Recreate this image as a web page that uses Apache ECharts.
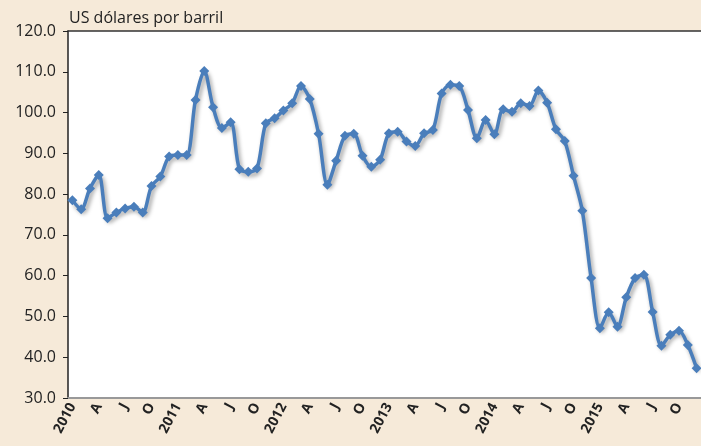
<!DOCTYPE html>
<html>
<head>
<meta charset="utf-8">
<script src="https://cdn.jsdelivr.net/npm/echarts@6/dist/echarts.min.js"></script>
<style>
  html, body { margin: 0; padding: 0; background: #f6ead9; }
  #chart { width: 701px; height: 446px; }
</style>
</head>
<body>
<div id="chart"></div>
<script>
var years = ['2010', '2011', '2012', '2013', '2014', '2015'];
var monthLetters = ['', 'F', 'M', 'A', 'M', 'J', 'J', 'A', 'S', 'O', 'N', 'D'];

var price2010 = [78.5, 76.3, 81.4, 84.7, 74.1, 75.5, 76.5, 76.9, 75.5, 82.0, 84.3, 89.2];
var price2011 = [89.6, 89.6, 103.1, 110.2, 101.3, 96.2, 97.6, 86.1, 85.5, 86.3, 97.4, 98.6];
var price2012 = [100.5, 102.3, 106.5, 103.3, 94.8, 82.3, 88.2, 94.3, 94.8, 89.4, 86.7, 88.4];
var price2013 = [94.9, 95.3, 92.9, 91.8, 94.9, 95.7, 104.7, 106.8, 106.5, 100.6, 93.7, 98.2];
var price2014 = [94.7, 100.8, 100.2, 102.3, 101.6, 105.4, 102.4, 95.9, 93.0, 84.5, 75.9, 59.4];
var price2015 = [47.1, 51.0, 47.5, 54.7, 59.4, 60.2, 51.1, 42.8, 45.5, 46.5, 43.0, 37.3];

var categories = [];
years.forEach(function (y) {
    monthLetters.forEach(function (m, i) {
        categories.push(i === 0 ? y : m);
    });
});
var prices = [].concat(price2010, price2011, price2012, price2013, price2014, price2015);

var myChart = echarts.init(document.getElementById('chart'));
var option = {
    backgroundColor: '#f6ead9',
    animation: false,
    title: {
        text: 'US dólares por barril',
        left: 64,
        top: 5,
        textStyle: { fontFamily: 'Open Sans', fontSize: 16, fontWeight: 'normal', color: '#222' }
    },
    grid: {
        left: 68, top: 31, right: 0, bottom: 48,
        show: true, backgroundColor: '#fff', borderWidth: 0
    },
    xAxis: [
        {
            type: 'category',
            data: categories,
            boundaryGap: true,
            axisLine: { lineStyle: { color: '#999', width: 2 } },
            axisTick: { interval: 0, length: 4, lineStyle: { color: '#999' } },
            axisLabel: {
                interval: 2,
                rotate: 62,
                margin: 6,
                fontFamily: 'Open Sans',
                fontSize: 14,
                fontWeight: 'bold',
                color: '#222'
            }
        },
        {
            type: 'category',
            data: categories,
            position: 'top',
            axisLine: { lineStyle: { color: '#333', width: 1.5 } },
            axisTick: { show: false },
            axisLabel: { show: false }
        }
    ],
    yAxis: {
        type: 'value',
        min: 30,
        max: 120,
        interval: 10,
        splitLine: { show: false },
        axisLine: { show: true, lineStyle: { color: '#222', width: 1.5 } },
        axisTick: { show: true, length: 5, lineStyle: { color: '#222' } },
        axisLabel: {
            margin: 12,
            fontFamily: 'Open Sans',
            fontSize: 16,
            color: '#222',
            formatter: function (v) { return v.toFixed(1); }
        }
    },
    series: [
        {
            type: 'line',
            data: prices,
            smooth: 0.3,
            showAllSymbol: true,
            symbol: 'diamond',
            symbolSize: 10,
            itemStyle: { color: '#4a7ebb' },
            lineStyle: {
                color: '#4a7ebb',
                width: 3.5,
                shadowColor: 'rgba(0,0,0,0.4)',
                shadowBlur: 4,
                shadowOffsetX: 2,
                shadowOffsetY: 3
            }
        }
    ]
};
myChart.setOption(option);
</script>
</body>
</html>
